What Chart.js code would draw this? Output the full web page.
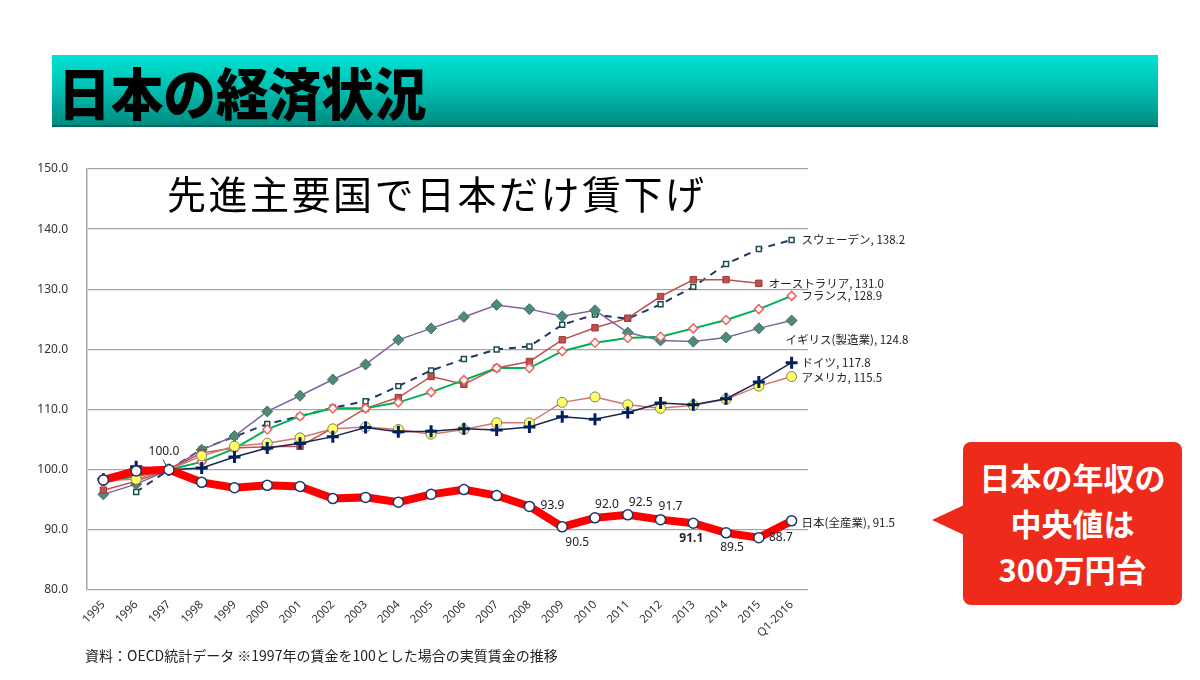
<!DOCTYPE html>
<html lang="ja">
<head>
<meta charset="utf-8">
<title>日本の経済状況</title>
<script src="https://cdn.jsdelivr.net/npm/chart.js@4.4.1/dist/chart.umd.min.js"></script>
<style>
    html, body { margin: 0; padding: 0; background: #fff; }
    body { width: 1200px; height: 680px; position: relative; overflow: hidden; font-family: "Noto Sans CJK JP", "Noto Sans", sans-serif; }
    #wrap { position: absolute; left: 0; top: 0; width: 1200px; height: 680px; }
    .header {
        position: absolute; left: 52px; top: 55px; width: 1106px; height: 72px;
        background: linear-gradient(to bottom, #00e3d3 0%, #00c2b4 45%, #008c82 100%);
        border-bottom: 2px solid #00665f;
        box-sizing: border-box;
    }
    .header h1 {
        margin: 0; position: absolute; left: 6px; top: -5px;
        font: 900 56px "Noto Sans CJK JP", sans-serif; color: #000; letter-spacing: 0px;
        transform: scaleX(0.94); transform-origin: left center;
    }
    .callout {
        position: absolute; left: 963px; top: 442px; width: 219px; height: 163px;
        background: #ee2a1b; border-radius: 8px; color: #fff; text-align: center;
        font: 700 31px "Noto Sans CJK JP", sans-serif; line-height: 46px;
        box-sizing: border-box; padding-top: 12px;
    }
    .callout::before {
        content: ""; position: absolute; left: -31px; top: 63px;
        border-top: 15px solid transparent; border-bottom: 15px solid transparent;
        border-right: 32px solid #ee2a1b;
    }
    .note {
        position: absolute; left: 85px; top: 645px;
        font: 14px "Noto Sans CJK JP", sans-serif; color: #222;
    }
</style>
</head>
<body>
<div id="wrap"><canvas id="wageChart" width="1200" height="680"></canvas></div>
<div class="header"><h1>日本の経済状況</h1></div>
<div class="callout">日本の年収の<br>中央値は<br>300万円台</div>
<div class="note">資料：OECD統計データ ※1997年の賃金を100とした場合の実質賃金の推移</div>

<script>
// 1. Data
const chartTitle = '先進主要国で日本だけ賃下げ';
const years = ['1995', '1996', '1997', '1998', '1999', '2000', '2001', '2002', '2003', '2004', '2005',
    '2006', '2007', '2008', '2009', '2010', '2011', '2012', '2013', '2014', '2015', 'Q1-2016'];
const yTicks = [80, 90, 100, 110, 120, 130, 140, 150];

const japan     = [98.3, 99.8, 100.0, 97.9, 97.0, 97.4, 97.2, 95.2, 95.4, 94.6, 95.9, 96.7, 95.7, 93.9, 90.5, 92.0, 92.5, 91.7, 91.1, 89.5, 88.7, 91.5];
const sweden    = [null, 96.3, 100.0, 103.4, 105.5, 107.6, 108.9, 110.3, 111.4, 113.9, 116.5, 118.4, 120.0, 120.5, 124.1, 125.8, 125.1, 127.5, 130.4, 134.2, 136.7, 138.2];
const australia = [96.6, 98.1, 100.0, 102.8, 103.6, 103.8, 103.9, 106.9, 110.2, 112.0, 115.5, 114.2, 116.9, 118.0, 121.6, 123.6, 125.2, 128.8, 131.6, 131.6, 131.0, null];
const france    = [97.9, 98.9, 100.0, 101.3, 103.5, 106.7, 108.9, 110.2, 110.2, 111.2, 112.9, 114.9, 116.9, 116.9, 119.7, 121.1, 121.9, 122.1, 123.5, 124.9, 126.7, 128.9];
const uk        = [95.9, 97.6, 100.0, 103.3, 105.6, 109.7, 112.3, 115.0, 117.5, 121.6, 123.5, 125.4, 127.4, 126.7, 125.5, 126.5, 122.8, 121.5, 121.3, 122.0, 123.5, 124.8];
const germany   = [98.4, 100.5, 100.0, 100.3, 102.1, 103.6, 104.4, 105.5, 107.0, 106.3, 106.4, 106.8, 106.6, 107.1, 108.8, 108.4, 109.5, 111.1, 110.8, 111.8, 114.6, 117.8];
const usa       = [98.2, 98.4, 100.0, 102.3, 103.9, 104.4, 105.3, 106.8, 107.1, 106.7, 105.9, 106.7, 107.8, 107.8, 111.2, 112.1, 110.8, 110.2, 110.7, 111.7, 113.9, 115.5];

// 2. Label placement (offsets from the point, px)
const endLabelOffset = {
    '日本(全産業)': [10, 2],
    'スウェーデン': [10, 0],
    'オーストラリア': [10, 0],
    'フランス': [10, 0],
    'イギリス(製造業)': [-6, 19],
    'ドイツ': [10, 0],
    'アメリカ': [10, 1]
};
const japanLabelOffset = {
    2: [-5, -18], 13: [23, -1], 14: [15, 16], 15: [12, -13], 16: [13, -12],
    17: [10, -13], 18: [-2, 15], 19: [6, 15], 20: [22, 0]
};

// 3. Plugin: in-plot title, end labels, Japan value labels
const annotate = {
    id: 'annotate',
    afterDatasetsDraw(chart) {
        const ctx = chart.ctx;
        const area = chart.chartArea;
        ctx.save();
        ctx.fillStyle = '#000';
        ctx.textBaseline = 'middle';
        ctx.textAlign = 'left';
        ctx.font = '39px "Noto Sans CJK JP"';
        ctx.letterSpacing = '2.5px';
        ctx.fillText(chartTitle, area.left + 80, 194);
        ctx.letterSpacing = '0px';

        ctx.font = '11.5px "Noto Sans CJK JP"';
        ctx.fillStyle = '#222';
        chart.data.datasets.forEach((ds, i) => {
            const meta = chart.getDatasetMeta(i);
            let idx = ds.data.length - 1;
            while (idx >= 0 && ds.data[idx] == null) idx--;
            const pt = meta.data[idx];
            const off = endLabelOffset[ds.label] || [10, 0];
            ctx.fillText(ds.label + ', ' + ds.data[idx].toFixed(1), pt.x + off[0], pt.y + off[1]);
        });

        const jMeta = chart.getDatasetMeta(0);
        ctx.textAlign = 'center';
        Object.keys(japanLabelOffset).forEach(k => {
            const i = +k;
            const pt = jMeta.data[i];
            const off = japanLabelOffset[i];
            ctx.font = (i === 18 ? 'bold ' : '') + '12px "Noto Sans"';
            ctx.fillStyle = '#222';
            ctx.fillText(japan[i].toFixed(1), pt.x + off[0], pt.y + off[1]);
        });
        // leader line for 100.0
        const p0 = jMeta.data[2];
        ctx.strokeStyle = '#333';
        ctx.lineWidth = 1;
        ctx.beginPath();
        ctx.moveTo(p0.x - 6, p0.y - 10);
        ctx.lineTo(p0.x - 2, p0.y - 3);
        ctx.stroke();
        ctx.restore();
    }
};

// 4. Chart
new Chart(document.getElementById('wageChart'), {
    type: 'line',
    data: {
        labels: years,
        datasets: [
            { label: '日本(全産業)', data: japan, borderColor: '#ff0000', borderWidth: 8,
              pointStyle: 'circle', pointRadius: 5, pointBackgroundColor: '#fff', pointBorderColor: '#1f3864', pointBorderWidth: 1.5 },
            { label: 'ドイツ', data: germany, borderColor: '#1a2550', borderWidth: 1.5,
              pointStyle: 'cross', pointRadius: 6, pointBorderColor: '#002060', pointBorderWidth: 3 },
            { label: 'アメリカ', data: usa, borderColor: '#d9736e', borderWidth: 1.5,
              pointStyle: 'circle', pointRadius: 5, pointBackgroundColor: '#ffff66', pointBorderColor: '#7f7f5f', pointBorderWidth: 1 },
            { label: 'フランス', data: france, borderColor: '#00b050', borderWidth: 2,
              pointStyle: 'rectRot', pointRadius: 4.5, pointBackgroundColor: '#fff', pointBorderColor: '#f06262', pointBorderWidth: 1.5 },
            { label: 'オーストラリア', data: australia, borderColor: '#c0504d', borderWidth: 1.5,
              pointStyle: 'rect', pointRadius: 4.5, pointBackgroundColor: '#c0504d', pointBorderColor: '#9b3b38', pointBorderWidth: 1 },
            { label: 'イギリス(製造業)', data: uk, borderColor: '#8064a2', borderWidth: 1.5,
              pointStyle: 'rectRot', pointRadius: 5.5, pointBackgroundColor: '#4e8a78', pointBorderColor: '#3f7465', pointBorderWidth: 1 },
            { label: 'スウェーデン', data: sweden, borderColor: '#1f3864', borderWidth: 2, borderDash: [7, 6],
              pointStyle: 'rect', pointRadius: 3.5, pointBackgroundColor: '#fff', pointBorderColor: '#1b4d4d', pointBorderWidth: 1.5 }
        ]
    },
    options: {
        responsive: false,
        animation: false,
        layout: { padding: { left: 30, top: 169, right: 392, bottom: 40 } },
        plugins: { legend: { display: false }, tooltip: { enabled: false } },
        elements: { line: { tension: 0, fill: false } },
        scales: {
            y: {
                min: 80, max: 150,
                afterBuildTicks: scale => { scale.ticks = yTicks.map(v => ({ value: v })); },
                afterFit: scale => { scale.width = 57; },
                grid: { color: '#a6a6a6', lineWidth: 1.3, drawTicks: false },
                border: { display: true, color: '#a6a6a6', width: 1.5 },
                ticks: { padding: 19, color: '#333', font: { family: 'Noto Sans', size: 12 },
                         callback: v => v.toFixed(1) }
            },
            x: {
                offset: true,
                afterFit: scale => { scale.height = 50; },
                grid: { display: false, drawTicks: false },
                border: { display: false },
                ticks: { minRotation: 45, maxRotation: 45, padding: 8, color: '#333',
                         font: { family: 'Noto Sans', size: 11.5 } }
            }
        }
    },
    plugins: [annotate]
});
</script>
</body>
</html>
